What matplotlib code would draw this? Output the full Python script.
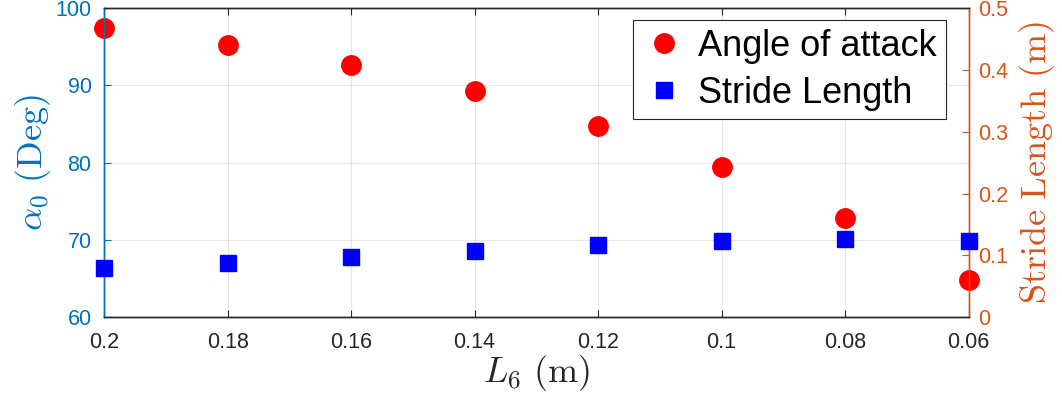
import matplotlib
matplotlib.use("Agg")
import matplotlib.pyplot as plt

L6 = [0.2, 0.18, 0.16, 0.14, 0.12, 0.10, 0.08, 0.06]
angle_of_attack = [97.4, 95.2, 92.6, 89.2, 84.7, 79.4, 72.8, 64.8]
stride_length = [0.079, 0.087, 0.097, 0.107, 0.117, 0.124, 0.127, 0.123]
x_ticks = [0.2, 0.18, 0.16, 0.14, 0.12, 0.1, 0.08, 0.06]
x_ticklabels = ["0.2", "0.18", "0.16", "0.14", "0.12", "0.1", "0.08", "0.06"]
left_ticks = [60, 70, 80, 90, 100]
right_ticks = [0, 0.1, 0.2, 0.3, 0.4, 0.5]
right_ticklabels = ["0", "0.1", "0.2", "0.3", "0.4", "0.5"]

plt.rcParams['font.family'] = ['Liberation Sans', 'DejaVu Sans']
plt.rcParams['mathtext.fontset'] = 'cm'

blue_axis = (0.0, 0.447, 0.741)
orange_axis = (0.85, 0.325, 0.098)
dark = (0.15, 0.15, 0.15)

fig = plt.figure(figsize=(10.62, 4.01), dpi=100)
ax = fig.add_axes([0.098, 0.209, 0.814, 0.771])
ax2 = ax.twinx()

h1, = ax.plot(L6, angle_of_attack, 'o', color='red', markersize=14, linestyle='none',
              label='Angle of attack', zorder=5, clip_on=False)
h2, = ax2.plot(L6, stride_length, 's', color='blue', markersize=11, linestyle='none',
               label='Stride Length', zorder=5, clip_on=False)

ax.set_xlim(0.2, 0.06)
ax.set_ylim(60, 100)
ax2.set_ylim(0, 0.5)
ax.set_xticks(x_ticks)
ax.set_xticklabels(x_ticklabels)
ax.set_yticks(left_ticks)
ax2.set_yticks(right_ticks)
ax2.set_yticklabels(right_ticklabels)

ax.grid(True, color=(0.15, 0.25, 0.35), alpha=0.12, linewidth=0.8)
ax.set_axisbelow(True)

for a in (ax, ax2):
    for s in a.spines.values():
        s.set_color(dark)
        s.set_linewidth(1.0)
    a.spines['left'].set_color(blue_axis)
    a.spines['right'].set_color(orange_axis)

ax.tick_params(axis='x', direction='in', length=5, colors=dark, labelsize=15.5, top=True, pad=11)
ax.tick_params(axis='y', direction='in', length=5, colors=blue_axis, labelsize=15.5, pad=9)
ax2.tick_params(axis='y', direction='in', length=5, colors=orange_axis, labelsize=15.5, pad=7)

ax.set_xlabel(r'$L_6\ \mathrm{(m)}$', fontsize=26, color=dark, labelpad=0)
ax.set_ylabel(r'$\alpha_0\ \mathrm{(Deg)}$', fontsize=26, color=blue_axis, labelpad=2)
ax2.set_ylabel(r'$\mathrm{Stride\ Length\ (m)}$', fontsize=26, color=orange_axis, labelpad=6)

leg = ax2.legend(handles=[h1, h2], loc='upper right', bbox_to_anchor=(0.9734, 0.961),
                 fontsize=26, frameon=True, fancybox=False, borderaxespad=0,
                 handletextpad=0.33, handlelength=1.24, borderpad=0.24, labelspacing=0.33)
leg.get_frame().set_edgecolor(dark)
leg.get_frame().set_linewidth(0.8)
leg.get_frame().set_alpha(1)

fig.savefig('out.png', dpi=100)
